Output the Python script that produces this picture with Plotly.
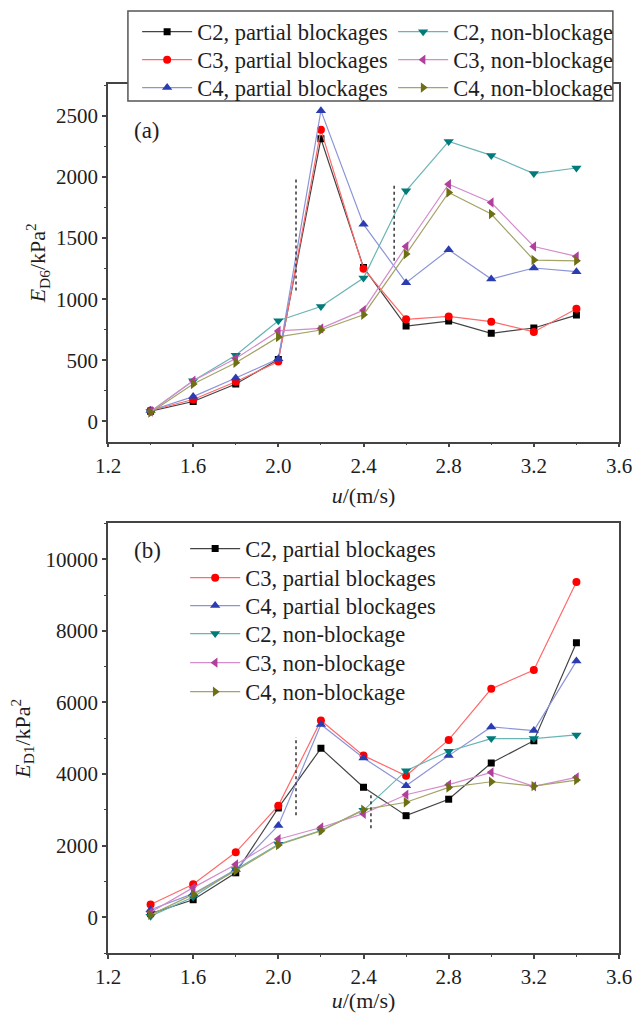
import plotly.graph_objects as go

# ---------------- data ----------------
u = [1.4, 1.6, 1.8, 2.0, 2.2, 2.4, 2.6, 2.8, 3.0, 3.2, 3.4]

# panel (a): E_D6 (kPa^2)
a_c2_partial = [84, 163, 306, 507, 2312, 1260, 780, 821, 721, 764, 870]
a_c3_partial = [89, 179, 325, 490, 2385, 1249, 835, 859, 816, 732, 921]
a_c4_partial = [89, 203, 355, 512, 2542, 1612, 1135, 1404, 1165, 1255, 1225]
a_c2_non = [81, 333, 542, 824, 940, 1173, 1886, 2290, 2176, 2027, 2073]
a_c3_non = [81, 333, 515, 740, 761, 910, 1431, 1940, 1791, 1431, 1350]
a_c4_non = [73, 306, 480, 691, 748, 873, 1369, 1873, 1696, 1320, 1314]

# panel (b): E_D1 (kPa^2)
b_c2_partial = [100, 488, 1240, 3052, 4718, 3630, 2836, 3296, 4307, 4932, 7667]
b_c3_partial = [357, 920, 1812, 3117, 5494, 4514, 3954, 4952, 6380, 6903, 9367]
b_c4_partial = [207, 657, 1333, 2563, 5382, 4449, 3674, 4514, 5316, 5214, 7155]
b_c2_non = [30, 563, 1333, 2038, 2423, 2986, 4094, 4635, 4990, 4990, 5093]
b_c3_non = [141, 826, 1474, 2178, 2507, 2892, 3422, 3702, 4047, 3655, 3907]
b_c4_non = [66, 638, 1296, 2019, 2413, 3005, 3211, 3625, 3784, 3662, 3831]

names = ["C2, partial blockages", "C3, partial blockages", "C4, partial blockages",
         "C2, non-blockage", "C3, non-blockage", "C4, non-blockage"]

x_ticks = [1.2, 1.6, 2.0, 2.4, 2.8, 3.2, 3.6]
x_ticklabels = ["1.2", "1.6", "2.0", "2.4", "2.8", "3.2", "3.6"]
ya_ticks = [0, 500, 1000, 1500, 2000, 2500]
yb_ticks = [0, 2000, 4000, 6000, 8000, 10000]

# dotted divider lines (x, y_low, y_high)
div_a_x = [2.083, 2.544]
div_a_lo = [1070, 1315]
div_a_hi = [1996, 1944]
div_b_x = [2.083, 2.435]
div_b_lo = [2849, 2486]
div_b_hi = [5036, 3407]

# ---------------- styles ----------------
symbols = ["square", "circle", "triangle-up", "triangle-down", "triangle-left", "triangle-right"]
mcolors = ["#000000", "#ff0000", "#2a3cb0", "#007a7a", "#b0409c", "#6e6e12"]
lcolors = ["#444444", "#ff6a6a", "#8c94d8", "#6ab4b4", "#d48ccc", "#a4a468"]
msizes = [7, 8, 9, 9, 9, 9]
FONT = "Liberation Serif"
TXT = "#1e1e1e"

# legend entry positions (paper coords, one legend per entry)
leg_a_x = [0.057, 0.057, 0.057, 0.558, 0.558, 0.558]
leg_a_y = [1.0586, 1.0264, 0.9943, 1.0586, 1.0264, 0.9943]
leg_b_x = [0.151] * 6
leg_b_y = [0.4644, 0.4310, 0.3989, 0.3667, 0.3333, 0.3000]

fig = go.Figure()

series_a = [a_c2_partial, a_c3_partial, a_c4_partial, a_c2_non, a_c3_non, a_c4_non]
series_b = [b_c2_partial, b_c3_partial, b_c4_partial, b_c2_non, b_c3_non, b_c4_non]

legends = {}
for i, ys in enumerate(series_a):
    lname = "legend" if i == 0 else "legend%d" % (i + 1)
    fig.add_trace(go.Scatter(
        x=u, y=ys, name=names[i], mode="lines+markers",
        line=dict(color=lcolors[i], width=1.2),
        marker=dict(symbol=symbols[i], color=mcolors[i], size=msizes[i]),
        xaxis="x", yaxis="y", legend=lname,
    ))
    legends[lname] = dict(x=leg_a_x[i], y=leg_a_y[i])

for i, ys in enumerate(series_b):
    lname = "legend%d" % (i + 7)
    fig.add_trace(go.Scatter(
        x=u, y=ys, name=names[i], mode="lines+markers",
        line=dict(color=lcolors[i], width=1.2),
        marker=dict(symbol=symbols[i], color=mcolors[i], size=msizes[i]),
        xaxis="x2", yaxis="y2", legend=lname,
    ))
    legends[lname] = dict(x=leg_b_x[i], y=leg_b_y[i])

legend_layout = {}
for lname, pos in legends.items():
    legend_layout[lname] = dict(
        x=pos["x"], y=pos["y"], xanchor="left", yanchor="middle",
        bgcolor="rgba(0,0,0,0)", borderwidth=0,
        font=dict(family=FONT, size=22.5, color=TXT), itemwidth=50,
    )

shapes = []
for xv, lo, hi in zip(div_a_x, div_a_lo, div_a_hi):
    shapes.append(dict(type="line", xref="x", yref="y", x0=xv, x1=xv, y0=lo, y1=hi,
                       line=dict(color="#333333", width=1.5, dash="dot")))
for xv, lo, hi in zip(div_b_x, div_b_lo, div_b_hi):
    shapes.append(dict(type="line", xref="x2", yref="y2", x0=xv, x1=xv, y0=lo, y1=hi,
                       line=dict(color="#333333", width=1.5, dash="dot")))
# legend box for panel (a)
shapes.append(dict(type="rect", xref="paper", yref="paper", x0=0.039, x1=0.988,
                   y0=0.9805, y1=1.0839, fillcolor="white", layer="above",
                   line=dict(color="#555555", width=1.5)))

axis_common = dict(
    showline=True, mirror=True, linecolor="#444444", linewidth=1.5,
    ticks="outside", ticklen=4, tickwidth=1.5, tickcolor="#444444",
    showgrid=False, zeroline=False, automargin=False,
    tickfont=dict(family=FONT, size=21, color=TXT),
)

xaxis_cfg = dict(axis_common, range=[1.2, 3.6], tickvals=x_ticks, ticktext=x_ticklabels,
                 minor=dict(ticks="outside", ticklen=2, tickwidth=1.2, tickcolor="#444444",
                            tickvals=[1.4, 1.8, 2.2, 2.6, 3.0, 3.4]),
                 title=dict(text="<i>u</i>/(m/s)", font=dict(family=FONT, size=22, color=TXT),
                            standoff=11))

fig.update_layout(
    width=637, height=1013,
    margin=dict(l=108, r=18, t=83, b=60),
    paper_bgcolor="white", plot_bgcolor="white",
    font=dict(family=FONT, size=21, color=TXT),
    showlegend=True,
    xaxis=dict(xaxis_cfg, anchor="y", domain=[0, 1]),
    yaxis=dict(axis_common, anchor="x", domain=[0.5885, 1], range=[-165, 2760],
               tickvals=ya_ticks, ticktext=[str(v) for v in ya_ticks],
               minor=dict(ticks="outside", ticklen=2, tickwidth=1.2, tickcolor="#444444", dtick=250, tick0=0),
               title=dict(text="<i>E</i><sub>D6</sub>/kPa<sup>2</sup>",
                          font=dict(family=FONT, size=22, color=TXT), standoff=4)),
    xaxis2=dict(xaxis_cfg, anchor="y2", domain=[0, 1]),
    yaxis2=dict(axis_common, anchor="x2", domain=[0, 0.4943], range=[-1000, 11000],
                tickvals=yb_ticks, ticktext=[str(v) for v in yb_ticks],
                minor=dict(ticks="outside", ticklen=2, tickwidth=1.2, tickcolor="#444444", dtick=1000, tick0=0),
                title=dict(text="<i>E</i><sub>D1</sub>/kPa<sup>2</sup>",
                           font=dict(family=FONT, size=22, color=TXT), standoff=9)),
    shapes=shapes,
    annotations=[
        dict(text="(a)", x=0.047, y=0.946, xref="paper", yref="paper", showarrow=False,
             xanchor="left", yanchor="middle",
             font=dict(family=FONT, size=23, color=TXT)),
        dict(text="(b)", x=0.047, y=0.463, xref="paper", yref="paper", showarrow=False,
             xanchor="left", yanchor="middle",
             font=dict(family=FONT, size=23, color=TXT)),
    ],
    **legend_layout,
)

fig.write_html("out.html")
